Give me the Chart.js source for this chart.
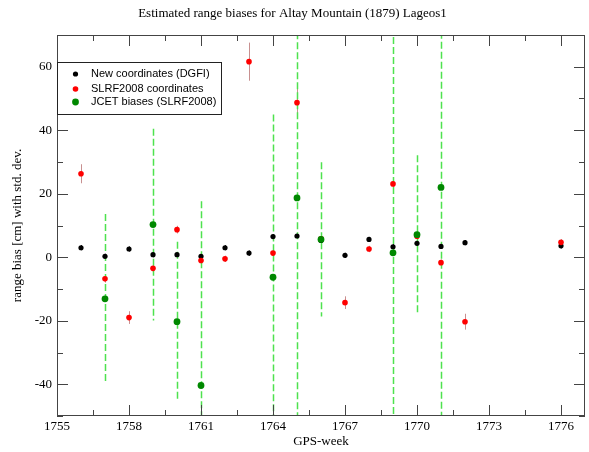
<!DOCTYPE html>
<html>
<head>
<meta charset="utf-8">
<script src="https://cdn.jsdelivr.net/npm/chart.js@4"></script>
<style>
html, body { margin: 0; padding: 0; background: #fff; }
</style>
</head>
<body>
<canvas id="biasChart" width="589" height="452"></canvas>
<script>
// GPS weeks and range biases [cm] with std. dev.
var dgfiWeeks = [1756, 1757, 1758, 1759, 1760, 1761, 1762, 1763, 1764, 1765, 1766, 1767, 1768, 1769, 1770, 1771, 1772, 1776];
var dgfiBias  = [3.0, 0.3, 2.6, 0.8, 0.8, 0.3, 3.0, 1.3, 6.5, 6.7, 5.3, 0.6, 5.6, 3.3, 4.4, 3.4, 4.6, 3.6];
var dgfiErr   = [0.8, 0.8, 0.8, 0.8, 0.8, 0.8, 0.8, 0.8, 0.8, 0.8, 0.8, 0.8, 0.8, 0.8, 0.8, 0.8, 0.8, 0.8];

var slrfWeeks = [1756, 1757, 1758, 1759, 1760, 1761, 1762, 1763, 1764, 1765, 1766, 1767, 1768, 1769, 1770, 1771, 1772, 1776];
var slrfBias  = [26.3, -6.8, -19.0, -3.5, 8.7, -1.0, -0.5, 61.6, 1.3, 48.7, 5.8, -14.3, 2.6, 23.1, 6.6, -1.7, -20.3, 4.7];
var slrfErr   = [3.0, 1.2, 2.0, 1.2, 1.2, 1.2, 1.0, 6.0, 1.0, 4.6, 1.0, 2.0, 1.0, 1.2, 1.0, 1.0, 2.5, 1.0];

var jcetWeeks = [1757, 1759, 1760, 1761, 1764, 1765, 1766, 1769, 1770, 1771];
var jcetBias  = [-13.1, 10.3, -20.3, -40.4, -6.3, 18.7, 5.6, 1.4, 7.1, 22.0];
var jcetErr   = [26.7, 30.2, 25.2, 58.0, 51.3, 90.0, 24.3, 90.0, 25.0, 90.0];

var xTicks = [1755, 1758, 1761, 1764, 1767, 1770, 1773, 1776];
var yTicks = [-40, -20, 0, 20, 40, 60];

function toPoints(weeks, vals) {
  return weeks.map(function (w, i) { return { x: w, y: vals[i] }; });
}

var serif = '"Liberation Serif", "Times New Roman", serif';
var sans = '"Liberation Sans", Arial, sans-serif';

var series = [
  { label: 'New coordinates (DGFI)', color: '#000000', radius: 2.6, err: dgfiErr, errColor: '#000000', errWidth: 1, dash: [] },
  { label: 'SLRF2008 coordinates', color: '#ff0000', radius: 2.8, err: slrfErr, errColor: '#c89090', errWidth: 1, dash: [] },
  { label: 'JCET biases (SLRF2008)', color: '#008800', radius: 3.4, err: jcetErr, errColor: '#4ee24e', errWidth: 1.5, dash: [7, 3] }
];

var errorBars = {
  id: 'errorBars',
  beforeDatasetsDraw: function (chart) {
    var ctx = chart.ctx, xs = chart.scales.x, ys = chart.scales.y, a = chart.chartArea;
    ctx.save();
    ctx.beginPath();
    ctx.rect(a.left, a.top, a.right - a.left, a.bottom - a.top);
    ctx.clip();
    chart.data.datasets.forEach(function (ds, k) {
      var s = series[k];
      ctx.strokeStyle = s.errColor;
      ctx.lineWidth = s.errWidth;
      ctx.setLineDash(s.dash);
      ds.data.forEach(function (p, i) {
        var px = Math.round(xs.getPixelForValue(p.x)) + 0.5;
        ctx.beginPath();
        ctx.moveTo(px, ys.getPixelForValue(p.y + s.err[i]));
        ctx.lineTo(px, ys.getPixelForValue(p.y - s.err[i]));
        ctx.stroke();
      });
    });
    ctx.restore();
  }
};

var frameTicks = {
  id: 'frameTicks',
  afterDraw: function (chart) {
    var ctx = chart.ctx, xs = chart.scales.x, ys = chart.scales.y, a = chart.chartArea;
    ctx.save();
    ctx.strokeStyle = '#444';
    ctx.lineWidth = 1;
    ctx.setLineDash([]);
    ctx.strokeRect(a.left + 0.5, a.top + 0.5, a.right - a.left - 1, a.bottom - a.top - 1);

    function xt(v, len) {
      var px = Math.round(xs.getPixelForValue(v)) + 0.5;
      ctx.beginPath();
      ctx.moveTo(px, a.bottom); ctx.lineTo(px, a.bottom - len);
      ctx.moveTo(px, a.top); ctx.lineTo(px, a.top + len);
      ctx.stroke();
    }
    function yt(v, len) {
      var py = Math.round(ys.getPixelForValue(v)) + 0.5;
      ctx.beginPath();
      ctx.moveTo(a.left, py); ctx.lineTo(a.left + len, py);
      ctx.moveTo(a.right, py); ctx.lineTo(a.right - len, py);
      ctx.stroke();
    }
    xTicks.forEach(function (v, i) {
      xt(v, 11);
      if (i < xTicks.length - 1) xt((v + xTicks[i + 1]) / 2, 6);
    });
    xt(xTicks[xTicks.length - 1] + 1.5, 6);
    yTicks.forEach(function (v, i) {
      yt(v, 11);
      yt(v - 10, 6);
    });
    yt(yTicks[yTicks.length - 1] + 10, 6);

    // legend box
    var lx = a.left, ly = 62;
    ctx.fillStyle = '#fff';
    ctx.fillRect(lx + 1, ly, 164, 52);
    ctx.strokeStyle = '#222';
    ctx.strokeRect(lx + 0.5, ly + 0.5, 164, 52);
    ctx.font = '11px ' + sans;
    ctx.textBaseline = 'middle';
    var rows = [74, 89, 102];
    series.forEach(function (s, i) {
      ctx.fillStyle = s.color;
      ctx.beginPath();
      ctx.arc(75.5, rows[i], s.radius, 0, Math.PI * 2);
      ctx.fill();
      ctx.fillStyle = '#000';
      ctx.fillText(s.label, 91, rows[i]);
    });
    ctx.restore();
  }
};

var ds = [
  toPoints(dgfiWeeks, dgfiBias),
  toPoints(slrfWeeks, slrfBias),
  toPoints(jcetWeeks, jcetBias)
];

new Chart(document.getElementById('biasChart').getContext('2d'), {
  type: 'scatter',
  data: {
    datasets: series.map(function (s, k) {
      return {
        label: s.label,
        data: ds[k],
        order: 2 - k,
        pointRadius: s.radius,
        pointHoverRadius: s.radius,
        pointStyle: 'circle',
        backgroundColor: s.color,
        borderColor: s.color,
        borderWidth: 0
      };
    })
  },
  options: {
    responsive: false,
    animation: false,
    layout: { padding: { left: 0, right: 4, top: 0, bottom: 0 } },
    plugins: {
      legend: { display: false },
      tooltip: { enabled: false },
      title: {
        display: true,
        text: 'Estimated range biases for Altay Mountain (1879) Lageos1',
        color: '#000',
        font: { family: serif, size: 13, weight: 'normal' },
        padding: { top: 6, bottom: 13.4 }
      }
    },
    scales: {
      x: {
        type: 'linear',
        min: 1755,
        max: 1777,
        afterBuildTicks: function (s) { s.ticks = xTicks.map(function (v) { return { value: v }; }); },
        afterFit: function (s) { s.height = 36; },
        grid: { display: false, drawTicks: false },
        border: { display: false },
        ticks: {
          padding: 3, color: '#000', autoSkip: false, maxRotation: 0,
          font: { family: serif, size: 13 },
          callback: function (v) { return String(v); }
        },
        title: {
          display: true, text: 'GPS-week', color: '#000',
          font: { family: serif, size: 13 },
          padding: { top: 0, bottom: 3 }
        }
      },
      y: {
        type: 'linear',
        min: -50,
        max: 70,
        afterBuildTicks: function (s) { s.ticks = yTicks.map(function (v) { return { value: v }; }); },
        afterFit: function (s) { s.width = 57; },
        grid: { display: false, drawTicks: false },
        border: { display: false },
        ticks: {
          padding: 5, color: '#000', autoSkip: false,
          font: { family: serif, size: 13 },
          callback: function (v) { return String(v); }
        },
        title: {
          display: true, text: 'range bias [cm] with std. dev.', color: '#000',
          font: { family: serif, size: 13 },
          padding: { top: 10, bottom: 0 }
        }
      }
    }
  },
  plugins: [errorBars, frameTicks]
});
</script>
</body>
</html>
